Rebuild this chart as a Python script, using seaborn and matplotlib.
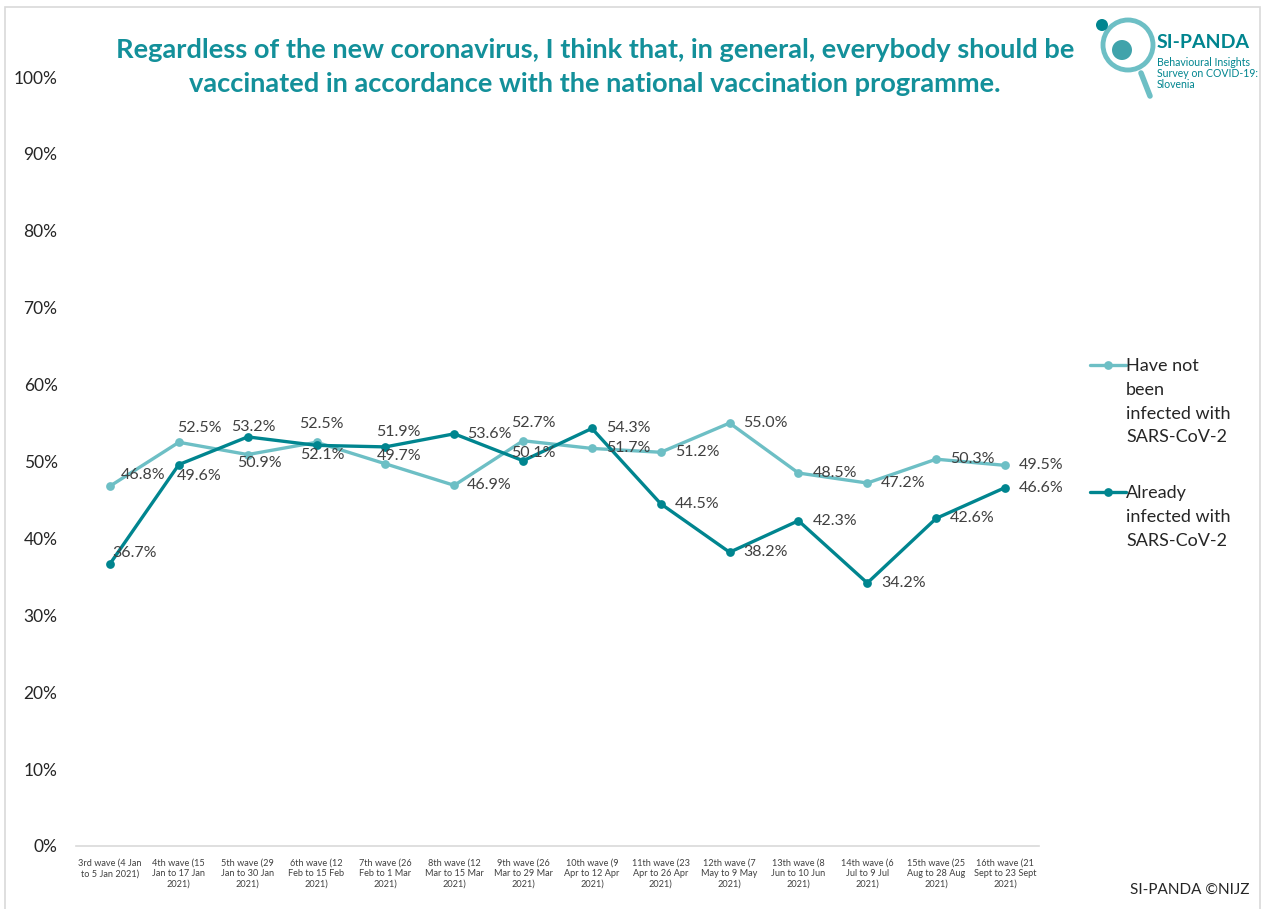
import seaborn as sns
import matplotlib.pyplot as plt
import numpy as np
import pandas as pd
from matplotlib.lines import Line2D
from matplotlib.patches import Rectangle, Circle

## data
waves = ["3rd wave (4 Jan\nto 5 Jan 2021)", "4th wave (15\nJan to 17 Jan\n2021)",
         "5th wave (29\nJan to 30 Jan\n2021)", "6th wave (12\nFeb to 15 Feb\n2021)",
         "7th wave (26\nFeb to 1 Mar\n2021)", "8th wave (12\nMar to 15 Mar\n2021)",
         "9th wave (26\nMar to 29 Mar\n2021)", "10th wave (9\nApr to 12 Apr\n2021)",
         "11th wave (23\nApr to 26 Apr\n2021)", "12th wave (7\nMay to 9 May\n2021)",
         "13th wave (8\nJun to 10 Jun\n2021)", "14th wave (6\nJul to 9 Jul\n2021)",
         "15th wave (25\nAug to 28 Aug\n2021)", "16th wave (21\nSept to 23 Sept\n2021)"]
not_infected = [46.8, 52.5, 50.9, 52.5, 49.7, 46.9, 52.7, 51.7, 51.2, 55.0, 48.5, 47.2, 50.3, 49.5]
already_infected = [36.7, 49.6, 53.2, 52.1, 51.9, 53.6, 50.1, 54.3, 44.5, 38.2, 42.3, 34.2, 42.6, 46.6]
series_names = ["Have not\nbeen\ninfected with\nSARS-CoV-2", "Already\ninfected with\nSARS-CoV-2"]
yticks = [0, 10, 20, 30, 40, 50, 60, 70, 80, 90, 100]

## label nudges (pixels: dx to label left edge, dy downward), Excel moved the crowded ones
nudge_light = [(11, -11), (-2, -14), (-11, 8), (-17, -18), (-9, -8), (13, 0), (-12, -18)] + [(14, 0)] * 7
nudge_dark = [(2, -11), (-2, 11), (-17, -10), (-16, 10), (-9, -15), (13, 0), (-12, -8)] + [(14, 0)] * 7

light, dark = "#6dbfc5", "#00858f"
teal_title = "#13909a"
grey_txt = "#404040"

df = pd.DataFrame({
    "x": list(range(len(waves))) * 2,
    "value": not_infected + already_infected,
    "group": [series_names[0]] * len(waves) + [series_names[1]] * len(waves),
})

sns.set_style("white")
plt.rcParams['font.family'] = ['Lato', 'DejaVu Sans']

W, H = 1267, 909
fig = plt.figure(figsize=(W / 100, H / 100), dpi=100)
ax = fig.add_axes([75.6 / W, 1 - 846 / H, (1039.4 - 75.6) / W, (846 - 77) / H])

sns.lineplot(data=df, x="x", y="value", hue="group", palette=[light, dark],
             marker="o", markersize=6.3, markeredgewidth=0, linewidth=2.4,
             legend=False, ax=ax)

for vals, nudges in [(not_infected, nudge_light), (already_infected, nudge_dark)]:
    for i, v in enumerate(vals):
        dx, dy = nudges[i]
        ax.annotate(f"{v:.1f}%", (i, v), xytext=(dx, -dy), textcoords="offset pixels",
                    ha="left", va="center", fontsize=11.5, color=grey_txt)

ax.set_xlim(-0.5, len(waves) - 0.5)
ax.set_ylim(0, 100)
ax.set_xticks(range(len(waves)))
ax.set_xticklabels(waves, fontsize=6.6, color=grey_txt, linespacing=1.25, va="top")
ax.set_yticks(yticks)
ax.set_yticklabels([f"{t}%" for t in yticks], fontsize=12.5, color="#262626")
ax.tick_params(axis="both", length=0)
ax.tick_params(axis="x", pad=9)
ax.tick_params(axis="y", pad=13)
ax.set_xlabel("")
ax.set_ylabel("")
sns.despine(ax=ax, left=True, top=True, right=True)
ax.spines["bottom"].set_color("#d9d9d9")
ax.spines["bottom"].set_linewidth(1.2)
ax.grid(False)

## title
fig.text(595 / W, 1 - 67 / H,
         "Regardless of the new coronavirus, I think that, in general, everybody should be\n"
         "vaccinated in accordance with the national vaccination programme.",
         ha="center", va="center", fontsize=19.6, fontweight="bold", color=teal_title,
         linespacing=1.5)

## legend drawn by hand so the marker sits on the first text line
for (col, name, ytop) in [(light, series_names[0], 365), (dark, series_names[1], 492)]:
    fig.add_artist(Line2D([1090 / W, 1126 / W], [1 - ytop / H] * 2, color=col, linewidth=2.4))
    fig.add_artist(Line2D([1108 / W], [1 - ytop / H], color=col, marker="o", markersize=6.3,
                          markeredgewidth=0))
    fig.text(1126 / W, 1 - (ytop - 7) / H, name, ha="left", va="top", fontsize=13,
             color="#262626", linespacing=1.6)

## logo (coordinates in inches so the circles stay round)
inch = fig.dpi_scale_trans
fig.add_artist(Circle((11.28, (H - 45) / 100), 0.25, transform=inch,
                      fill=False, edgecolor=light, linewidth=3.5))
fig.add_artist(Circle((11.22, (H - 50) / 100), 0.10, transform=inch,
                      facecolor=dark, edgecolor="none", alpha=0.75))
fig.add_artist(Line2D([11.41, 11.50], [(H - 73) / 100, (H - 96) / 100], transform=inch,
                      color=light, linewidth=4, solid_capstyle="round"))
fig.add_artist(Circle((11.02, (H - 25) / 100), 0.06, transform=inch,
                      facecolor=dark, edgecolor="none"))
fig.text(1157 / W, 1 - 43 / H, "SI-PANDA", ha="left", va="center", fontsize=14,
         fontweight="bold", color=dark)
fig.text(1157 / W, 1 - 57 / H, "Behavioural Insights\nSurvey on COVID-19:\nSlovenia",
         ha="left", va="top", fontsize=7.6, color=dark, linespacing=1.0)

## footer
fig.text(1249 / W, 1 - 890 / H, "SI-PANDA ©NIJZ", ha="right", va="center", fontsize=11,
         color="#262626")

## chart border
fig.add_artist(Rectangle((5 / W, -0.05), (1260 - 5) / W, 1 - 7 / H + 0.05,
                         transform=fig.transFigure, fill=False, edgecolor="#d9d9d9",
                         linewidth=1.2))

fig.savefig("out.png", dpi=100)
